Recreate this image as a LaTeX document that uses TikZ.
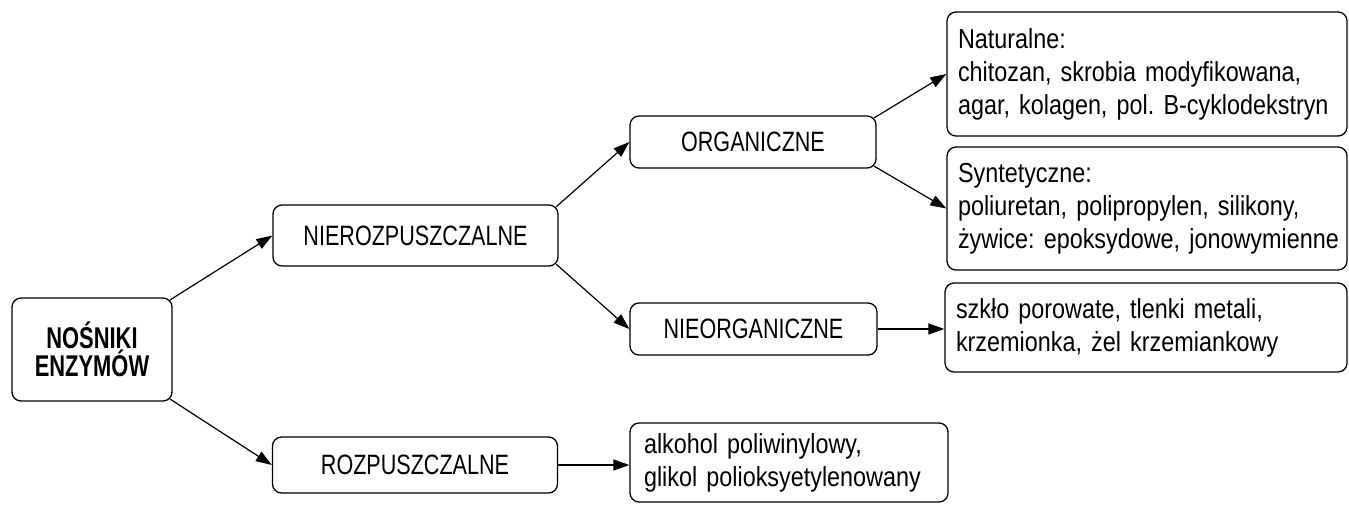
\documentclass[tikz,border=0pt]{standalone}
\usepackage{fontspec}
\setmainfont{Liberation Sans}
\newfontfamily\capsf[FakeStretch=0.77]{Liberation Sans}
\newfontfamily\lowsf[FakeStretch=0.85]{Liberation Sans}
\newfontfamily\rootsf[FakeStretch=0.73]{Liberation Sans}
\usetikzlibrary{arrows.meta}
\newcommand{\oneline}[1]{\mbox{#1}}
\frenchspacing
\begin{document}
\begin{tikzpicture}[x=1pt,y=-1pt,
  basebox/.style={draw, line width=1.3pt, rounded corners=9pt},
  rootbox/.style={basebox, font=\rootsf\bfseries\fontsize{30}{28}\selectfont, align=center},
  capbox/.style={basebox, font=\capsf\fontsize{28}{32}\selectfont, align=center},
  lowbox/.style={basebox, font=\lowsf\fontsize{27.5}{33}\selectfont, align=left, inner xsep=11pt},
  arr/.style={line width=1.2pt, -{Triangle[length=16pt,width=11pt]}}]
\useasboundingbox (0,0) rectangle (1349,504);
\node[rootbox, minimum width=160pt, minimum height=103pt] (root) at (92,349.5) {NOŚNIKI\\ENZYMÓW};
\node[capbox, minimum width=285pt, minimum height=61pt] (nieroz) at (415.5,235.5) {NIEROZPUSZCZALNE};
\node[capbox, minimum width=246pt, minimum height=52pt] (org) at (753,142) {ORGANICZNE};
\node[capbox, minimum width=247pt, minimum height=52pt] (nieorg) at (753.5,329) {NIEORGANICZNE};
\node[capbox, minimum width=285pt, minimum height=56pt] (roz) at (415,465) {ROZPUSZCZALNE};
\node[lowbox, text width=378pt, minimum height=124pt] (nat) at (1147,74) {\oneline{Naturalne:}\\\oneline{chitozan, skrobia modyfikowana,}\\\oneline{agar, kolagen, pol. B-cyklodekstryn}};
\node[lowbox, text width=378pt, minimum height=123pt] (syn) at (1147,208.5) {\oneline{Syntetyczne:}\\\oneline{poliuretan, polipropylen, silikony,}\\\oneline{żywice: epoksydowe, jonowymienne}};
\node[lowbox, text width=380pt, minimum height=89pt] (szklo) at (1146,327.5) {\oneline{szkło porowate, tlenki metali,}\\\oneline{krzemionka, żel krzemiankowy}};
\node[lowbox, inner xsep=14pt, text width=290pt, minimum height=79pt] (alk) at (789,462.5) {\oneline{alkohol poliwinylowy,}\\\oneline{glikol polioksyetylenowany}};
\draw[arr] ([xshift=-2.5pt,yshift=-2.5pt]root.north east) -- (nieroz.west);
\draw[arr] ([xshift=-2.5pt,yshift=2.5pt]root.south east) -- (roz.west);
\draw[arr] ([xshift=-2.5pt,yshift=-2.5pt]nieroz.north east) -- (org.west);
\draw[arr] ([xshift=-2.5pt,yshift=2.5pt]nieroz.south east) -- (nieorg.west);
\draw[arr] ([xshift=-2.5pt,yshift=-2.5pt]org.north east) -- (nat.west);
\draw[arr] ([xshift=-2.5pt,yshift=2.5pt]org.south east) -- (syn.west);
\draw[arr] (nieorg.east) -- (nieorg.east -| szklo.west);
\draw[arr] (roz.east) -- (roz.east -| alk.west);
\end{tikzpicture}
\end{document}
